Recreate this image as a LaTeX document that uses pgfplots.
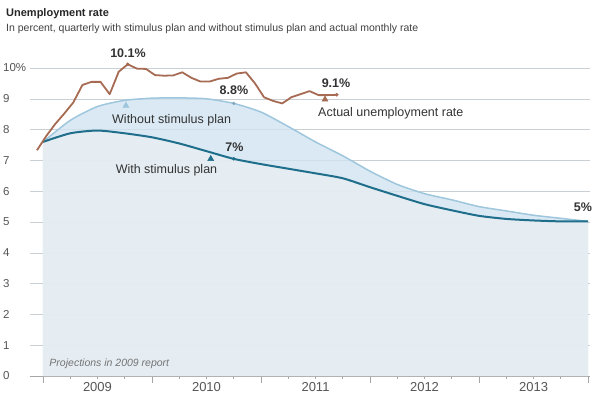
\documentclass[border=0pt]{standalone}
\usepackage{fontspec}
\setmainfont{Liberation Sans}
\usepackage{pgfplots}
\pgfplotsset{compat=1.18}
\definecolor{actual}{HTML}{A66B52}
\definecolor{wo}{HTML}{9EC6DD}
\definecolor{wi}{HTML}{1F6E8C}
\definecolor{fillA}{HTML}{D1E4F0}
\definecolor{fillB}{HTML}{E8EEF3}
\definecolor{gridc}{HTML}{C9CFD3}
\definecolor{txt}{HTML}{333333}
\definecolor{tick}{HTML}{555555}
\begin{document}
\begin{tikzpicture}
\path[use as bounding box] (-30pt,-21pt) rectangle (562pt,376pt);
\begin{axis}[at={(0pt,0pt)}, anchor=south west, scale only axis,
  width=560pt, height=376pt,
  xmin=-0.119, xmax=5.018, ymin=0, ymax=12.208,
  axis x line*=bottom, axis y line*=left,
  x axis line style={-, draw=gray!70, line width=0.8pt},
  y axis line style={-, draw=none},
  ytick={0,1,2,3,4,5,6,7,8,9,10},
  yticklabels={0,1,2,3,4,5,6,7,8,9,10\%},
  ytick style={draw=none},
  yticklabel style={anchor=west, inner sep=0pt, xshift=-20pt, text=tick, font=\fontsize{11.5}{13}\selectfont},
  ymajorgrids, grid style={gridc, line width=0.6pt},
  xtick={0,1,2,3,4,5}, xticklabels={},
  minor x tick num=3,
  tick align=outside, major tick length=7pt, minor tick length=3pt,
  x tick style={draw=gray!70, line width=0.8pt},
  extra x ticks={0.5,1.5,2.5,3.5,4.5},
  extra x tick labels={2009,2010,2011,2012,2013},
  extra x tick style={major tick length=0pt, grid=none},
  xticklabel style={text=tick, font=\fontsize{13}{15}\selectfont, yshift=-3pt},
  clip=false,
]
% fills
\addplot[draw=none, fill=fillA, fill opacity=0.8] coordinates {
(0.00,7.60) (0.25,8.30) (0.50,8.75) (0.75,8.95) (1.00,9.02)
(1.25,9.03) (1.50,9.00) (1.75,8.85) (2.00,8.57) (2.25,8.10)
(2.50,7.60) (2.75,7.15) (3.00,6.65) (3.25,6.22) (3.50,5.92)
(3.75,5.72) (4.00,5.50) (4.25,5.36) (4.50,5.22) (4.75,5.12)
(5.00,5.02)} \closedcycle;
\addplot[draw=none, fill=fillB, fill opacity=0.8] coordinates {
(0.00,7.60) (0.25,7.88) (0.50,7.97) (0.75,7.88) (1.00,7.75)
(1.25,7.55) (1.50,7.30) (1.75,7.05) (2.00,6.88) (2.25,6.73)
(2.50,6.58) (2.75,6.42) (3.00,6.13) (3.25,5.85) (3.50,5.58)
(3.75,5.38) (4.00,5.20) (4.25,5.10) (4.50,5.05) (4.75,5.02)
(5.00,5.02)} \closedcycle;
% lines
\addplot[wo, line width=1.5pt, smooth, tension=0.4] coordinates {
(0.00,7.60) (0.25,8.30) (0.50,8.75) (0.75,8.95) (1.00,9.02)
(1.25,9.03) (1.50,9.00) (1.75,8.85) (2.00,8.57) (2.25,8.10)
(2.50,7.60) (2.75,7.15) (3.00,6.65) (3.25,6.22) (3.50,5.92)
(3.75,5.72) (4.00,5.50) (4.25,5.36) (4.50,5.22) (4.75,5.12)
(5.00,5.02)};
\addplot[wi, line width=2pt, smooth, tension=0.4] coordinates {
(0.00,7.60) (0.25,7.88) (0.50,7.97) (0.75,7.88) (1.00,7.75)
(1.25,7.55) (1.50,7.30) (1.75,7.05) (2.00,6.88) (2.25,6.73)
(2.50,6.58) (2.75,6.42) (3.00,6.13) (3.25,5.85) (3.50,5.58)
(3.75,5.38) (4.00,5.20) (4.25,5.10) (4.50,5.05) (4.75,5.02)
(5.00,5.02)};
\addplot[actual, line width=1.8pt, line join=round] coordinates {
(-0.055,7.33) (0.028,7.78) (0.112,8.18) (0.195,8.52) (0.278,8.88)
(0.362,9.45) (0.445,9.55) (0.528,9.55) (0.612,9.15) (0.695,9.88)
(0.778,10.12) (0.862,9.98) (0.945,9.97) (1.028,9.77) (1.112,9.75)
(1.195,9.76) (1.278,9.86) (1.362,9.68) (1.445,9.56) (1.528,9.56)
(1.612,9.65) (1.695,9.68) (1.778,9.82) (1.862,9.86) (1.945,9.50)
(2.028,9.05) (2.112,8.93) (2.195,8.85) (2.278,9.05) (2.362,9.15)
(2.445,9.25) (2.528,9.12) (2.612,9.12) (2.695,9.13)};
% dots
\addplot[only marks, mark=*, mark size=1.6pt, actual] coordinates {(0.778,10.12) (2.695,9.13)};
\addplot[only marks, mark=*, mark size=1.5pt, wo!85!black] coordinates {(1.75,8.85)};
\addplot[only marks, mark=*, mark size=1.6pt, wi] coordinates {(1.75,7.05)};
% triangles
\addplot[only marks, mark=triangle*, mark size=3.5pt, wo] coordinates {(0.761,8.78)};
\addplot[only marks, mark=triangle*, mark size=3.5pt, wi] coordinates {(1.539,7.05)};
\addplot[only marks, mark=triangle*, mark size=3.5pt, actual] coordinates {(2.587,8.98)};
% labels
\node[font=\bfseries\fontsize{12.5}{14}\selectfont, text=txt] at (axis cs:0.78,10.49) {10.1\%};
\node[font=\bfseries\fontsize{12.5}{14}\selectfont, text=txt] at (axis cs:1.752,9.29) {8.8\%};
\node[font=\bfseries\fontsize{12.5}{14}\selectfont, text=txt] at (axis cs:2.688,9.51) {9.1\%};
\node[font=\bfseries\fontsize{12.5}{14}\selectfont, text=txt] at (axis cs:1.757,7.42) {7\%};
\node[font=\bfseries\fontsize{12.5}{14}\selectfont, text=txt] at (axis cs:4.954,5.49) {5\%};
\node[anchor=west, inner sep=0pt, font=\fontsize{12.5}{14}\selectfont, text=txt] at (axis cs:0.633,8.31) {Without stimulus plan};
\node[inner sep=0pt, font=\fontsize{12.5}{14}\selectfont, text=txt] at (axis cs:1.133,6.69) {With stimulus plan};
\node[anchor=west, inner sep=0pt, font=\fontsize{12.5}{14}\selectfont, text=txt] at (axis cs:2.523,8.53) {Actual unemployment rate};
\node[anchor=west, inner sep=0pt, font=\itshape\fontsize{10.5}{12}\selectfont, text=gray!90!black] at (axis cs:0.058,0.41) {Projections in 2009 report};
\end{axis}
\node[anchor=west, inner sep=0pt, font=\bfseries\fontsize{11}{13}\selectfont, text=black!85] at (-24pt,362pt) {Unemployment rate};
\node[anchor=west, inner sep=0pt, font=\fontsize{10.5}{12}\selectfont, text=black!75] at (-24pt,347.7pt) {In percent, quarterly with stimulus plan and without stimulus plan and actual monthly rate};
\end{tikzpicture}
\end{document}
